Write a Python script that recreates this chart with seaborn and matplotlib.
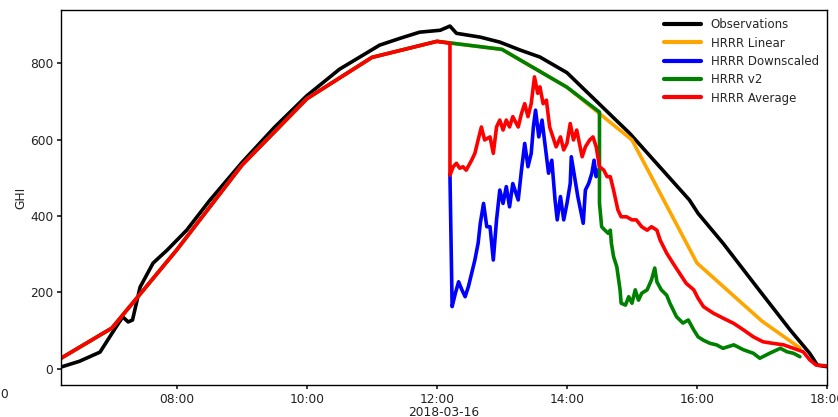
import numpy as np
import pandas as pd
import matplotlib
matplotlib.use("Agg")
import matplotlib.pyplot as plt
import matplotlib.dates as mdates
import seaborn as sns

DAY = "2018-03-16"

obs_t = ["06:13", "06:30", "06:49", "06:58", "07:05", "07:10", "07:15", "07:19", "07:26",
         "07:38", "07:51", "08:09", "08:30", "09:00", "09:30", "10:00", "10:30", "11:00",
         "11:07", "11:26", "11:44", "12:03", "12:12", "12:18", "12:40", "12:58", "13:17",
         "13:35", "14:00", "14:12", "14:58", "15:53", "16:01", "16:24", "16:55", "17:26",
         "17:44", "17:47", "17:51", "18:00"]
obs_v = [5, 20, 44, 84, 115, 136, 123, 128, 214,
         277, 311, 363, 440, 540, 632, 715, 784, 835,
         847, 865, 881, 886, 897, 878, 868, 855, 834,
         816, 775, 742, 616, 442, 407, 329, 215, 102,
         41, 28, 10, 6]

lin_t = ["06:13", "07:00", "08:00", "09:00", "10:00", "11:00", "12:00", "13:00", "14:00",
         "15:00", "16:00", "17:00", "17:35"]
lin_v = [28, 107, 312, 533, 707, 815, 857, 836, 737, 599, 277, 125, 55]

ds_t = ["12:12", "12:14", "12:17", "12:20", "12:23", "12:26", "12:29", "12:32", "12:35",
        "12:38", "12:40", "12:43", "12:46", "12:49", "12:52", "12:55", "12:58", "13:01",
        "13:04", "13:07", "13:10", "13:15", "13:18", "13:21", "13:24", "13:27", "13:29",
        "13:31", "13:34", "13:37", "13:40", "13:43", "13:46", "13:49", "13:51", "13:54",
        "13:57", "14:00", "14:03", "14:04", "14:07", "14:10", "14:15", "14:17", "14:20",
        "14:23", "14:25", "14:27", "14:28"]
ds_v = [507, 163, 198, 228, 207, 189, 215, 250, 285,
        329, 381, 433, 372, 372, 285, 390, 468, 433,
        477, 424, 485, 442, 520, 590, 529, 564, 633,
        677, 607, 651, 581, 512, 546, 442, 390, 451,
        390, 433, 485, 555, 503, 451, 381, 468, 485,
        512, 546, 503, 520]

v2_t = ["06:13", "07:00", "08:00", "09:00", "10:00", "11:00", "12:00", "13:00", "14:00",
        "14:30", "14:30", "14:32", "14:35", "14:38", "14:40", "14:41", "14:43", "14:46",
        "14:49", "14:50", "14:54", "14:57", "15:00", "15:03", "15:06", "15:09", "15:14",
        "15:18", "15:21", "15:23", "15:27", "15:32", "15:35", "15:41", "15:47", "15:52",
        "15:57", "16:01", "16:06", "16:12", "16:18", "16:24", "16:34", "16:43", "16:52",
        "16:58", "17:07", "17:17", "17:23", "17:29", "17:35"]
v2_v = [28, 107, 312, 533, 707, 815, 857, 836, 737,
        672, 434, 372, 363, 355, 363, 329, 294, 267,
        207, 172, 167, 189, 172, 207, 180, 198, 207,
        233, 264, 228, 207, 193, 172, 137, 120, 128,
        102, 84, 75, 67, 63, 54, 63, 50, 41,
        28, 41, 54, 45, 41, 32]

avg_t = ["06:13", "07:00", "08:00", "09:00", "10:00", "11:00", "12:00", "12:12", "12:12",
         "12:15", "12:18", "12:21", "12:24", "12:27", "12:32", "12:35", "12:38", "12:41",
         "12:44", "12:49", "12:52", "12:55", "12:58", "13:01", "13:04", "13:07", "13:10",
         "13:15", "13:18", "13:21", "13:24", "13:27", "13:30", "13:33", "13:35", "13:38",
         "13:41", "13:44", "13:47", "13:50", "13:54", "13:57", "14:00", "14:03", "14:06",
         "14:09", "14:14", "14:17", "14:21", "14:24", "14:27", "14:30", "14:34", "14:37",
         "14:40", "14:43", "14:47", "14:50", "14:55", "15:00", "15:04", "15:09", "15:14",
         "15:18", "15:23", "15:26", "15:32", "15:38", "15:44", "15:50", "15:57", "16:01",
         "16:06", "16:15", "16:24", "16:34", "16:43", "16:52", "17:01", "17:10", "17:20",
         "17:29", "17:38", "17:44", "17:50", "18:00"]
avg_v = [28, 107, 312, 533, 707, 815, 857, 852, 507,
         529, 538, 525, 529, 520, 546, 564, 599, 633,
         599, 607, 564, 633, 651, 625, 651, 633, 660,
         633, 668, 694, 660, 694, 764, 721, 738, 694,
         703, 633, 607, 581, 607, 573, 590, 642, 599,
         625, 555, 581, 599, 607, 581, 529, 520, 503,
         503, 468, 416, 398, 398, 390, 390, 372, 363,
         372, 363, 337, 303, 276, 250, 224, 207, 185,
         163, 146, 133, 119, 102, 84, 71, 67, 63,
         54, 45, 24, 10, 8]

names = ["Observations", "HRRR Linear", "HRRR Downscaled", "HRRR v2", "HRRR Average"]
colors = ["black", "orange", "blue", "green", "red"]
series = [(obs_t, obs_v), (lin_t, lin_v), (ds_t, ds_v), (v2_t, v2_v), (avg_t, avg_v)]

frames = []
for name, (t, v) in zip(names, series):
    frames.append(pd.DataFrame({
        "time": pd.to_datetime([f"{DAY} {x}" for x in t]),
        "GHI": v,
        "series": name,
    }))
df = pd.concat(frames, ignore_index=True)

sns.set_theme(style="ticks")
plt.rcParams["font.family"] = ["DejaVu Sans"]
plt.rcParams["axes.edgecolor"] = "black"
plt.rcParams["axes.linewidth"] = 1.0

fig = plt.figure(figsize=(8.38, 4.17), dpi=100)
ax = fig.add_axes([61 / 838, 1 - 385 / 417, (827 - 61) / 838, (385 - 10) / 417])

sns.lineplot(data=df, x="time", y="GHI", hue="series", hue_order=names,
             palette=dict(zip(names, colors)), estimator=None, sort=False,
             linewidth=2.6, ax=ax)

ax.set_xlim(pd.Timestamp(f"{DAY} 06:13"), pd.Timestamp(f"{DAY} 18:00"))
ax.set_ylim(-42, 939)
ax.set_yticks([0, 200, 400, 600, 800])
ax.xaxis.set_major_locator(mdates.HourLocator(byhour=[8, 10, 12, 14, 16, 18]))
ax.xaxis.set_major_formatter(mdates.DateFormatter("%H:%M"))
ax.tick_params(labelsize=8.8, colors="#222222", length=3, pad=2.5)
ax.set_xlabel("2018-03-16", fontsize=8.8, color="#222222", labelpad=0)
ax.set_ylabel("GHI", fontsize=8.8, color="#222222", labelpad=2)

leg = ax.legend(loc="upper right", frameon=False, fontsize=8.5, handlelength=3.1,
                handletextpad=0.85, labelspacing=0.45, borderaxespad=0.3)
for line in leg.get_lines():
    line.set_linewidth(3)

# fragment of a clipped tick label visible at the reference's lower-left edge
fig.text(0.0, 1 - 395 / 417, "0", fontsize=8.8, color="#222222", ha="left", va="center")

fig.savefig("out.png", dpi=100)
